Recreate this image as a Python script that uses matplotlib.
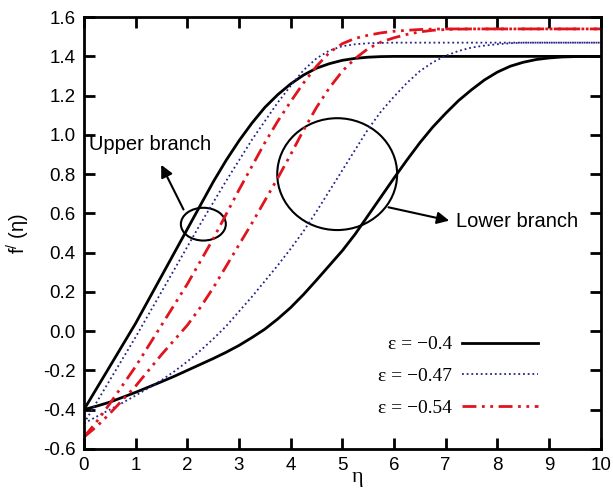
import numpy as np
import matplotlib
matplotlib.use('Agg')
import matplotlib.pyplot as plt
from matplotlib.patches import Ellipse

plt.rcParams['font.family'] = ['Liberation Sans', 'DejaVu Sans']
plt.rcParams['mathtext.default'] = 'regular'
plt.rcParams['axes.unicode_minus'] = False

# values, eta = 0, 0.25, ..., 10
eta = [i * 0.25 for i in range(41)]

upper_04 = [-0.40, -0.29, -0.18, -0.07,
            0.04, 0.16, 0.28, 0.40,
            0.52, 0.64, 0.76, 0.87,
            0.97, 1.06, 1.14, 1.205,
            1.26, 1.305, 1.34, 1.363,
            1.38, 1.39, 1.396, 1.399,
            1.40, 1.40, 1.40, 1.40,
            1.40, 1.40, 1.40, 1.40,
            1.40, 1.40, 1.40, 1.40,
            1.40, 1.40, 1.40, 1.40,
            1.40]
upper_047 = [-0.47, -0.36, -0.25, -0.14,
             -0.03, 0.085, 0.20, 0.315,
             0.43, 0.545, 0.655, 0.765,
             0.87, 0.975, 1.07, 1.165,
             1.25, 1.33, 1.39, 1.43,
             1.452, 1.462, 1.467, 1.469,
             1.47, 1.47, 1.47, 1.47,
             1.47, 1.47, 1.47, 1.47,
             1.47, 1.47, 1.47, 1.47,
             1.47, 1.47, 1.47, 1.47,
             1.47]
upper_054 = [-0.54, -0.46, -0.37, -0.275,
             -0.18, -0.075, 0.03, 0.135,
             0.24, 0.355, 0.47, 0.595,
             0.72, 0.84, 0.96, 1.07,
             1.17, 1.265, 1.35, 1.42,
             1.465, 1.492, 1.508, 1.52,
             1.528, 1.533, 1.537, 1.539,
             1.54, 1.54, 1.54, 1.54,
             1.54, 1.54, 1.54, 1.54,
             1.54, 1.54, 1.54, 1.54,
             1.54]

lower_04 = [-0.40, -0.382, -0.362, -0.337,
            -0.312, -0.285, -0.258, -0.23,
            -0.20, -0.17, -0.14, -0.108,
            -0.073, -0.033, 0.01, 0.062,
            0.12, 0.187, 0.26, 0.335,
            0.41, 0.495, 0.59, 0.685,
            0.78, 0.872, 0.96, 1.04,
            1.11, 1.175, 1.23, 1.28,
            1.32, 1.35, 1.37, 1.384,
            1.392, 1.397, 1.399, 1.40,
            1.40]
lower_047 = [-0.47, -0.435, -0.40, -0.365,
             -0.328, -0.29, -0.25, -0.205,
             -0.155, -0.10, -0.04, 0.025,
             0.10, 0.175, 0.255, 0.335,
             0.42, 0.51, 0.61, 0.715,
             0.82, 0.925, 1.03, 1.12,
             1.195, 1.265, 1.325, 1.37,
             1.403, 1.428, 1.445, 1.455,
             1.462, 1.467, 1.47, 1.47,
             1.47, 1.47, 1.47, 1.47,
             1.47]
lower_054 = [-0.54, -0.485, -0.42, -0.35,
             -0.28, -0.20, -0.12, -0.045,
             0.03, 0.12, 0.22, 0.33,
             0.44, 0.55, 0.665, 0.78,
             0.90, 1.025, 1.14, 1.24,
             1.325, 1.39, 1.44, 1.473,
             1.495, 1.512, 1.525, 1.533,
             1.537, 1.539, 1.54, 1.54,
             1.54, 1.54, 1.54, 1.54,
             1.54, 1.54, 1.54, 1.54,
             1.54]

labels = ['ε = −0.4', 'ε = −0.47', 'ε = −0.54']

fig = plt.figure(figsize=(6.13, 4.90), dpi=100)
ax = fig.add_axes([0.137, 0.084, 0.843, 0.881])

black = dict(color='black', lw=2.0, ls='-')
blue = dict(color='#23238a', lw=1.3, ls=(0, (1, 1.6)))
red = dict(color='#e0141e', lw=2.0, ls=(0, (5, 2, 1, 2, 1, 2)))

l1, = ax.plot(eta, upper_04, **black)
ax.plot(eta, lower_04, **black)
l2, = ax.plot(eta, upper_047, **blue)
ax.plot(eta, lower_047, **blue)
l3, = ax.plot(eta, upper_054, **red)
ax.plot(eta, lower_054, **red)

# circles marking the two branches
ax.add_patch(Ellipse((2.31, 0.545), 0.87, 0.167, fill=False, lw=1.5, color='black'))
ax.add_patch(Ellipse((4.9, 0.80), 2.32, 0.57, fill=False, lw=1.5, color='black'))

ax.annotate('', xy=(1.47, 0.86), xytext=(1.95, 0.607),
            arrowprops=dict(arrowstyle='-|>', lw=1.5, color='black', mutation_scale=18))
ax.annotate('', xy=(7.12, 0.56), xytext=(5.84, 0.634),
            arrowprops=dict(arrowstyle='-|>', lw=1.5, color='black', mutation_scale=18))
ax.text(0.1, 0.95, 'Upper branch', fontsize=14.5, va='center', ha='left')
ax.text(7.2, 0.56, 'Lower branch', fontsize=14.5, va='center', ha='left')

ax.legend([l1, l2, l3], labels, markerfirst=False, frameon=False, loc='upper right',
          bbox_to_anchor=(0.878, 0.262), borderpad=0, borderaxespad=0,
          handlelength=3.9, handletextpad=0.5, labelspacing=0.72,
          prop={'family': 'Liberation Serif', 'size': 14})

ax.set_xlim(0, 10)
ax.set_ylim(-0.6, 1.6)
ax.set_xticks(range(0, 11))
ax.set_yticks(np.arange(-0.6, 1.61, 0.2))
ax.set_yticklabels(['%.1f' % v for v in np.arange(-0.6, 1.61, 0.2)])
ax.tick_params(direction='in', length=8, width=2, top=True, right=True, labelsize=13.5, pad=6)
for s in ax.spines.values():
    s.set_linewidth(2)

ax.set_xlabel('η', fontsize=16, family='Liberation Serif')
ax.xaxis.set_label_coords(0.53, -0.045)
ax.set_ylabel('f$^{/}$ (η)', fontsize=14.5)
ax.yaxis.set_label_coords(-0.10, 0.5)

fig.savefig('out.png', dpi=100)
